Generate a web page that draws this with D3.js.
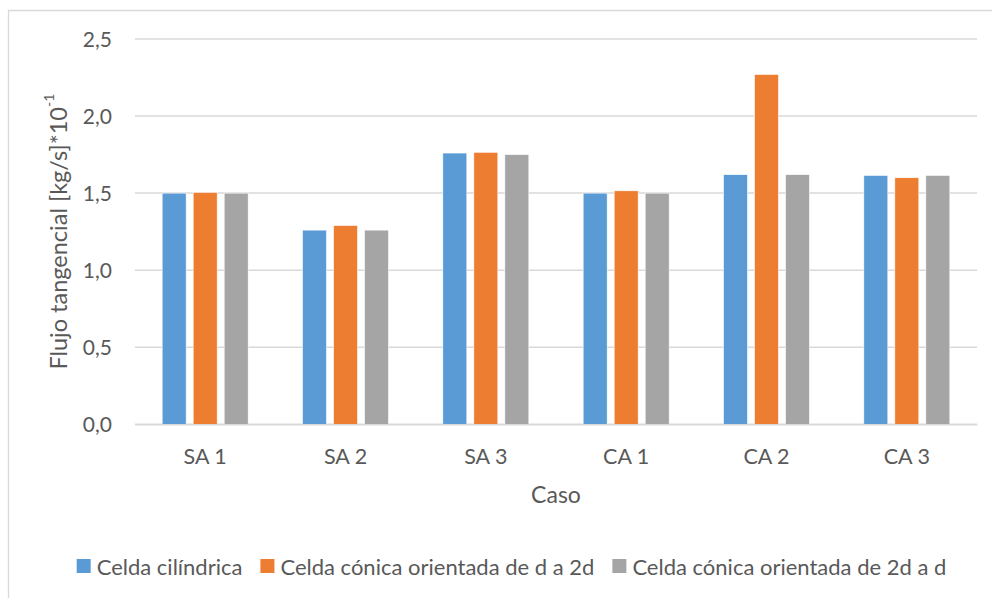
<!DOCTYPE html>
<html><head><meta charset="utf-8">
<script src="https://cdn.jsdelivr.net/npm/d3@7"></script>
<style>body{margin:0;background:#fff}svg{display:block}</style>
</head><body>
<script>
const categories = ["SA 1","SA 2","SA 3","CA 1","CA 2","CA 3"];
const seriesNames = ["Celda cilíndrica","Celda cónica orientada de d a 2d","Celda cónica orientada de 2d a d"];
const cilindrica = [1.50,1.26,1.76,1.50,1.62,1.615];
const conicaD2D  = [1.505,1.29,1.765,1.515,2.27,1.60];
const conica2DD  = [1.50,1.26,1.75,1.50,1.62,1.615];
const yTicks = [0,0.5,1.0,1.5,2.0,2.5];
const colors = ["#5B9BD5","#ED7D31","#A5A5A5"];
const seriesValues = [cilindrica, conicaD2D, conica2DD];

const W = 992, H = 598;
const FONT = "Lato, 'Open Sans', sans-serif";
const TXT = "#595959";
const svg = d3.select("body").append("svg").attr("width",W).attr("height",H);

// chart frame
svg.append("path").attr("d","M8.5,598 V10.5 H992").attr("fill","none").attr("stroke","#D9D9D9").attr("stroke-width",1.3);

const m = {l:135, r:977, t:39, b:424.3};
const x0 = d3.scaleBand().domain(categories).range([m.l,m.r]).paddingInner(0.387).paddingOuter(0.1935);
const x1 = d3.scaleBand().domain(d3.range(3)).range([0,x0.bandwidth()]).paddingInner(7/31);
const y = d3.scaleLinear().domain([0,2.5]).range([m.b,m.t]);

// gridlines
svg.append("g").selectAll("line").data(yTicks).join("line")
  .attr("x1",m.l).attr("x2",m.r).attr("y1",d=>y(d)).attr("y2",d=>y(d))
  .attr("stroke","#D9D9D9").attr("stroke-width",1.5);

// y axis labels via d3 axis
const yAxis = d3.axisLeft(y).tickValues(yTicks).tickSize(0).tickPadding(0)
  .tickFormat(d=>d3.format(".1f")(d).replace(".",","));
const gy = svg.append("g").attr("transform",`translate(${m.l-23},0)`).call(yAxis);
gy.select(".domain").remove();
gy.selectAll("text").attr("font-family",FONT).attr("font-size",21).attr("fill",TXT).attr("dy","0.35em");

// bars
const data = [];
categories.forEach((c,i)=>seriesValues.forEach((s,j)=>data.push({c,j,v:s[i]})));
svg.append("g").selectAll("rect").data(data).join("rect")
  .attr("x",d=>x0(d.c)+x1(d.j)).attr("width",x1.bandwidth())
  .attr("y",d=>y(d.v)).attr("height",d=>y(0)-y(d.v))
  .attr("fill",d=>colors[d.j]).attr("stroke","#fff").attr("stroke-width",0.6);

// x axis
const xAxis = d3.axisBottom(x0).tickSize(0).tickPadding(0);
const gx = svg.append("g").attr("transform",`translate(0,${m.b})`).call(xAxis);
gx.select(".domain").attr("stroke","#D9D9D9").attr("stroke-width",1.5);
gx.selectAll("text").attr("font-family",FONT).attr("font-size",21.5).attr("fill",TXT).attr("dy",0).attr("y",31.5).attr("dominant-baseline","central");

// axis titles
svg.append("text").attr("x",(m.l+m.r)/2).attr("y",494).attr("text-anchor","middle").attr("dominant-baseline","central")
  .attr("font-family",FONT).attr("font-size",23).attr("fill",TXT).text("Caso");
const yt = svg.append("text").attr("transform",`translate(58,${(m.t+m.b)/2}) rotate(-90)`).attr("text-anchor","middle").attr("dominant-baseline","central")
  .attr("font-family",FONT).attr("font-size",23.5).attr("fill",TXT);
yt.append("tspan").text("Flujo tangencial [kg/s]*10");
yt.append("tspan").attr("font-size",14).attr("dy","-0.75em").text("-1");

// legend
const lg = svg.append("g");
let cx = 0;
seriesNames.forEach((n,i)=>{
  const g = lg.append("g").attr("transform",`translate(${cx},0)`);
  g.append("rect").attr("x",0).attr("y",-7).attr("width",14).attr("height",14).attr("fill",colors[i]);
  const t = g.append("text").attr("x",20).attr("y",0).attr("dominant-baseline","central")
    .attr("font-family",FONT).attr("font-size",22).attr("fill",TXT).text(n);
  cx += 20 + t.node().getComputedTextLength() + 18;
});
const lw = cx - 18;
lg.attr("transform",`translate(${511.5 - lw/2},566)`);
</script>
</body></html>
